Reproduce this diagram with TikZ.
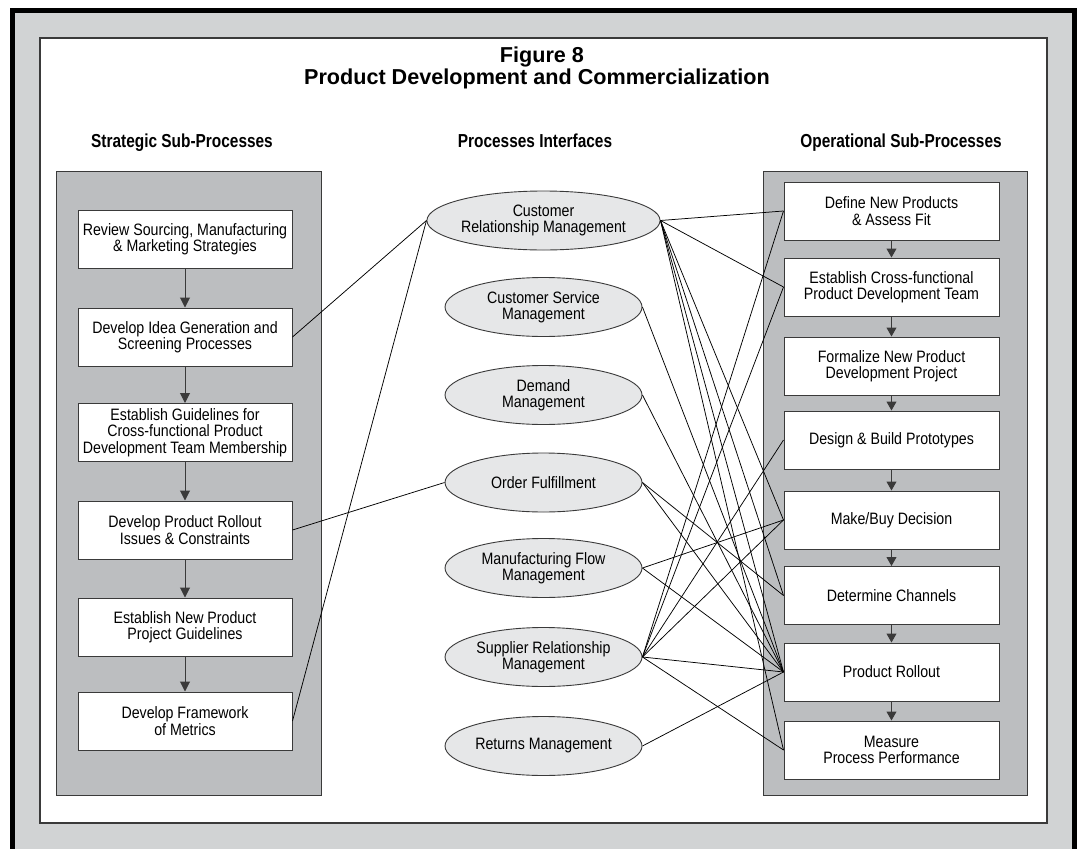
\documentclass[tikz,border=0pt]{standalone}
\usepackage{fontspec}
\setmainfont{Liberation Sans}
\newfontfamily\bodyf[FakeStretch=0.86]{Liberation Sans}
\newfontfamily\headf[FakeStretch=0.82]{Liberation Sans}
\usetikzlibrary{arrows.meta,shapes.geometric}
\definecolor{bandgray}{HTML}{D1D3D4}
\definecolor{panelgray}{HTML}{BCBEC0}
\definecolor{ellgray}{HTML}{E6E7E8}
\definecolor{edge}{HTML}{3A3A3A}
\begin{document}
\begin{tikzpicture}[x=1pt,y=-1pt,
  box/.style={draw=edge, line width=1pt, fill=white, minimum height=58, inner sep=0pt, align=center,
    font=\bodyf\fontsize{16.5}{16.3}\selectfont},
  lbox/.style={box, minimum width=214},
  rbox/.style={box, minimum width=215},
  proc/.style={ellipse, draw=edge, line width=0.9pt, fill=ellgray, minimum width=197, minimum height=59,
    inner sep=0pt, align=center, font=\bodyf\fontsize{16.5}{16.3}\selectfont},
  flowl/.style={-{Triangle[width=10pt,length=10pt]}, line width=1pt, draw=edge},
  flowr/.style={-{Triangle[width=10pt,length=9pt]}, line width=1pt, draw=edge},
  link/.style={line width=0.75pt, draw=black},
  panel/.style={fill=panelgray, draw=edge, line width=1pt},
  head/.style={font=\headf\bfseries\fontsize{18.8}{20}\selectfont, anchor=base},
  ttl/.style={font=\bfseries\fontsize{21.6}{24}\selectfont, anchor=base}]

\useasboundingbox (0,0) rectangle (1080,849);
\fill[white] (0,0) rectangle (1080,849);
\draw[line width=4.5pt, fill=bandgray] (12.25,10.25) rectangle (1074.5,880);
\draw[edge, line width=1.2pt, fill=white] (40,38) rectangle (1047,823);

% titles
\node[ttl] (t1) at (542,62) {Figure 8};
\node[ttl] (t2) at (537,84.5) {Product Development and Commercialization};
\node[head] (h1) at (182,147) {Strategic Sub-Processes};
\node[head] (h2) at (535,147) {Processes Interfaces};
\node[head] (h3) at (901,147) {Operational Sub-Processes};

% panels
\draw[panel] (56,171) rectangle (321,795);
\draw[panel] (763,171) rectangle (1027,795);

% left boxes
\node[lbox] (L1) at (185,239) {Review Sourcing, Manufacturing\\\& Marketing Strategies};
\node[lbox] (L2) at (185,337) {Develop Idea Generation and\\Screening Processes};
\node[lbox] (L3) at (185,432.5) {Establish Guidelines for\\Cross-functional Product\\Development Team Membership};
\node[lbox] (L4) at (185,530) {Develop Product Rollout\\Issues \& Constraints};
\node[lbox] (L5) at (185,627) {Establish New Product\\Project Guidelines};
\node[lbox] (L6) at (185,721) {Develop Framework\\of Metrics};
\draw[flowl] (L1) -- (L2);
\draw[flowl] (L2) -- (L3);
\draw[flowl] (L3) -- (L4);
\draw[flowl] (L4) -- (L5);
\draw[flowl] (L5) -- (L6);

% right boxes
\node[rbox] (R1) at (891.5,211) {Define New Products\\\& Assess Fit};
\node[rbox] (R2) at (891.5,287) {Establish Cross-functional\\Product Development Team};
\node[rbox] (R3) at (891.5,366) {Formalize New Product\\Development Project};
\node[rbox] (R4) at (891.5,440) {Design \& Build Prototypes};
\node[rbox] (R5) at (891.5,520) {Make/Buy Decision};
\node[rbox] (R6) at (891.5,595.5) {Determine Channels};
\node[rbox] (R7) at (891.5,672) {Product Rollout};
\node[rbox] (R8) at (891.5,750) {Measure\\Process Performance};
\draw[flowr] (R1) -- (R2);
\draw[flowr] (R2) -- (R3);
\draw[flowr] (R3) -- (R4);
\draw[flowr] (R4) -- (R5);
\draw[flowr] (R5) -- (R6);
\draw[flowr] (R6) -- (R7);
\draw[flowr] (R7) -- (R8);

% process interfaces
\node[proc] (CRM) at (543.5,220.5) {Customer\\Relationship Management};
\node[proc] (CSM) at (543.5,307) {Customer Service\\Management};
\node[proc] (DM) at (543.5,395) {Demand\\Management};
\node[proc] (OF) at (543.5,482.5) {Order Fulfillment};
\node[proc] (MFM) at (543.5,568) {Manufacturing Flow\\Management};
\node[proc] (SRM) at (543.5,657) {Supplier Relationship\\Management};
\node[proc] (RM) at (543.5,746) {Returns Management};

% left links
\draw[link] (L2.east) -- (CRM.west);
\draw[link] (L4.east) -- (OF.west);
\draw[link] (L6.east) -- (CRM.west);

% right links
\foreach \t in {R1,R2,R5,R6,R7,R8} \draw[link] (CRM.east) -- (\t.west);
\draw[link] (CSM.east) -- (R7.west);
\draw[link] (DM.east) -- (R7.west);
\foreach \t in {R6,R7} \draw[link] (OF.east) -- (\t.west);
\foreach \t in {R5,R7} \draw[link] (MFM.east) -- (\t.west);
\foreach \t in {R1,R2,R4,R5,R7,R8} \draw[link] (SRM.east) -- (\t.west);
\draw[link] (RM.east) -- (R7.west);
\end{tikzpicture}
\end{document}
